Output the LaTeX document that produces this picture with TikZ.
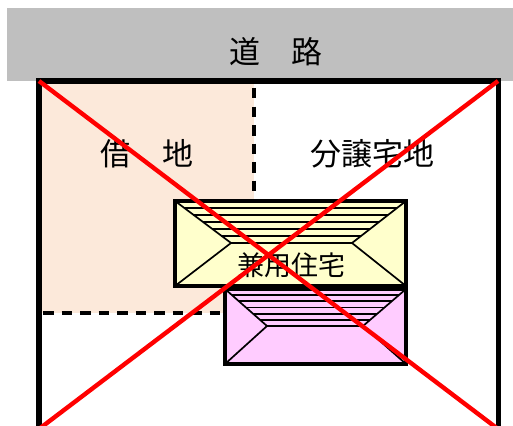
\documentclass[tikz,border=0pt]{standalone}
\usepackage{fontspec}
\usetikzlibrary{calc}
\newfontfamily\jpfont{Noto Sans CJK JP}
\definecolor{roadgray}{HTML}{BFBFBF}
\definecolor{leasepeach}{HTML}{FCE9DA}
\definecolor{mainyellow}{HTML}{FFFFCC}
\definecolor{annexpink}{HTML}{FFCCFF}
\tikzset{
    roofline/.style = {line width=1.7pt, black},
    houseedge/.style = {line width=4pt, black, line join=miter},
    boundary/.style = {line width=3.4pt, black, dash pattern=on 10.5pt off 8pt},
    cross/.style = {line width=4.4pt, red},
    bigtext/.style = {font=\jpfont\fontsize{31}{31}\selectfont, inner sep=0pt},
    housetext/.style = {font=\jpfont\fontsize{27}{27}\selectfont, inner sep=0pt}
}
\begin{document}
\begin{tikzpicture}[x=1pt, y=-1pt]
            \useasboundingbox (0,0) rectangle (513,425);
            \clip (0,0) rectangle (513,425);
            % road and plots
            \fill[roadgray] (7,8) rectangle (513,81);
            \fill[leasepeach] (39,81) rectangle (254,313);
            \draw[boundary] (254,88) -- (254,200);
            \draw[boundary] (43,313) -- (224,313);
            \draw[line width=5.4pt] (39,445) -- (39,81) -- (498.5,81) -- (498.5,445);
            % lower house
            \coordinate (pa) at (225,289);
            \coordinate (pb) at (406,289);
            \coordinate (pc) at (406,364);
            \coordinate (pd) at (225,364);
            \coordinate (pl) at (267,326);
            \coordinate (pr) at (363,326);
            \fill[annexpink] (pa) rectangle (pc);
            \draw[roofline] (pa) -- (pl) -- (pd);
            \draw[roofline] (pb) -- (pr) -- (pc);
            \draw[roofline] (pl) -- (pr);
            \foreach \f in {0.17,0.33,0.5,0.67,0.83}
                \draw[roofline] ($(pa)!\f!(pl)$) -- ($(pb)!\f!(pr)$);
            \draw[houseedge] (pa) rectangle (pc);
            % upper house
            \coordinate (ya) at (175,201);
            \coordinate (yb) at (406,201);
            \coordinate (yc) at (406,286);
            \coordinate (yd) at (175,286);
            \coordinate (yl) at (231,243);
            \coordinate (yr) at (352,243);
            \fill[mainyellow] (ya) rectangle (yc);
            \draw[roofline] (ya) -- (yl) -- (yd);
            \draw[roofline] (yb) -- (yr) -- (yc);
            \draw[roofline] (yl) -- (yr);
            \foreach \f in {0.17,0.33,0.5,0.67,0.83}
                \draw[roofline] ($(ya)!\f!(yl)$) -- ($(yb)!\f!(yr)$);
            \draw[houseedge] (ya) rectangle (yc);
            % labels
            \node[bigtext] (road) at (275.5,52) {道　路};
            \node[bigtext] (lease) at (146.5,153.5) {借　地};
            \node[bigtext] (plot) at (372,153.5) {分譲宅地};
            \node[housetext] (house) at (291.5,265) {兼用住宅};
            % crossing out
            \coordinate (nw) at (39,81);
            \coordinate (ne) at (498,81);
            \coordinate (se) at (498,429);
            \coordinate (sw) at (39,429);
            \draw[cross] (nw) -- (se);
            \draw[cross] (ne) -- (sw);
\end{tikzpicture}
\end{document}
